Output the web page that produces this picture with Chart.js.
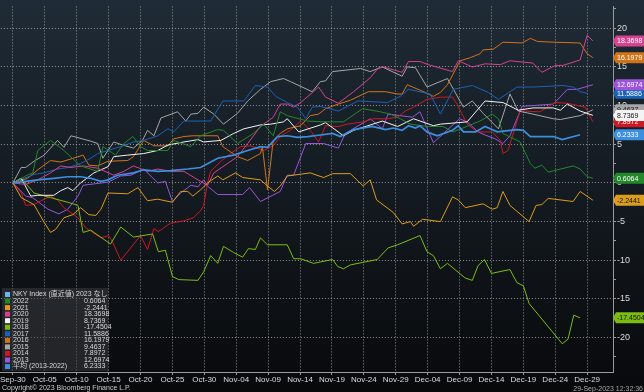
<!DOCTYPE html>
<html>
<head>
<meta charset="utf-8">
<script src="https://cdn.jsdelivr.net/npm/chart.js@4"></script>
<style>
  html, body { margin: 0; padding: 0; background: #0b0e11; }
  canvas { display: block; }
</style>
</head>
<body>
<canvas id="chart" width="644" height="392"></canvas>
<script>
// x values are days counted from Sep-30
const xTickDays = [0, 5, 10, 15, 20, 25, 30, 35, 40, 45, 50, 55, 60, 65, 70, 75, 80, 85, 90];
const xTickLabels = ['Sep-30', 'Oct-05', 'Oct-10', 'Oct-15', 'Oct-20', 'Oct-25', 'Oct-30', 'Nov-04', 'Nov-09',
  'Nov-14', 'Nov-19', 'Nov-24', 'Nov-29', 'Dec-04', 'Dec-09', 'Dec-14', 'Dec-19', 'Dec-24', 'Dec-29'];
const yTicks = [-22.5, -20, -17.5, -15, -12.5, -10, -7.5, -5, -2.5, 0, 2.5, 5, 7.5, 10, 12.5, 15, 17.5, 20, 22.5];

const seriesNames = ['NKY Index (直近値) 2023 なし', '2022', '2021', '2020', '2019', '2018', '2017', '2016', '2015', '2014', '2013', '平均 (2013-2022)'];
const lastValues = ['', '0.6064', '-2.2441', '18.3698', '8.7369', '-17.4504', '11.5886', '16.1979', '9.4637', '7.8972', '12.6974', '6.2333'];
const seriesColors = ['#69b3f2', '#22882a', '#dc9c1c', '#d6428f', '#f4f4f4', '#7cbc10', '#1a62b4', '#d0741a', '#a6a6a6', '#cc1820', '#9a55dc', '#3c8fe0'];
const tagTextColors = ['#fff', '#fff', '#111', '#fff', '#111', '#111', '#fff', '#fff', '#111', '#fff', '#fff', '#fff'];

// [day, % change]
const s2022 = [[0,0],[2.0,0.9],[3.1,1.3],[3.9,4.2],[5.9,5.5],[8.0,4.2],[10.6,2.2],[13.3,1.5],[14.1,4.7],[16.1,3.6],[17.4,5.1],[18.8,6.0],[20.0,4.7],[21.1,4.2],[24.3,4.2],[25.2,5.5],[27.9,4.7],[29.4,6.1],[32.1,6.9],[33.0,6.8],[35.2,5.1],[37.7,6.4],[39.3,7.6],[40.8,6.1],[41.9,9.2],[43.0,8.7],[46.2,8.0],[48.7,7.9],[51.8,7.9],[54.8,9.6],[57.6,9.2],[59.2,8.9],[60.7,8.3],[62.3,7.6],[64.9,7.3],[67.4,7.3],[69.0,6.6],[73.2,8.0],[75.1,8.9],[76.1,8.3],[76.8,6.4],[79.5,5.3],[81.1,2.5],[81.8,1.9],[82.9,2.3],[83.9,1.4],[87.8,2.2],[88.9,1.8],[90.0,0.8],[90.9,0.61]];
const s2021 = [[0,0],[1.3,-1.9],[3.3,-2.8],[4.9,-5.1],[5.9,-6.4],[6.7,-6.0],[8.0,-4.5],[9.4,-4.1],[10.6,-3.2],[11.9,-4.1],[13.0,-4.2],[13.8,-3.4],[14.9,-1.3],[18.0,-1.4],[19.6,-0.6],[21.1,-2.3],[22.7,-2.1],[25.0,-2.5],[26.3,-1.1],[27.4,-1.1],[28.2,-1.7],[29.4,-0.9],[30.5,0.0],[32.1,0.9],[32.9,0.4],[34.9,1.3],[36.0,0.7],[38.8,0.4],[39.9,-0.4],[41.0,-1.1],[41.9,-0.4],[43.0,0.9],[46.6,1.3],[48.7,0.7],[50.1,1.2],[52.9,1.2],[54.9,-0.4],[56.0,0.4],[57.0,-2.2],[59.6,-3.8],[61.0,-5.3],[62.3,-5.0],[62.8,-5.6],[64.2,-4.7],[67.0,-5.0],[68.9,-1.8],[69.8,-2.2],[70.9,-3.2],[73.7,-2.7],[75.1,-3.4],[75.9,-3.2],[76.8,-1.1],[77.9,-2.9],[80.9,-5.0],[82.0,-2.9],[82.9,-2.8],[83.9,-2.0],[87.8,-2.4],[88.9,-1.1],[90.9,-2.24]];
const s2020 = [[0,0],[2.0,-0.2],[3.9,0.4],[5.9,1.3],[7.5,2.2],[9.1,2.0],[11.1,2.2],[13.3,1.9],[15.8,1.0],[17.4,1.5],[18.9,2.2],[21.1,1.5],[22.7,1.8],[24.7,1.5],[26.8,1.5],[29.0,0.4],[30.5,-0.3],[31.5,1.3],[33.6,2.5],[35.2,3.4],[36.8,5.1],[38.8,7.3],[40.8,8.5],[41.9,10.2],[43.0,10.2],[44.0,9.8],[45.1,10.4],[47.1,11.8],[47.9,12.4],[49.0,11.1],[51.0,10.3],[53.4,11.8],[56.0,13.6],[57.3,14.9],[58.1,15.0],[61.0,14.3],[62.0,15.7],[63.8,15.7],[65.1,15.3],[68.9,14.4],[69.8,15.8],[72.0,15.0],[74.0,15.4],[76.4,15.3],[77.9,15.8],[81.5,15.5],[82.9,14.3],[85.0,15.2],[86.2,15.2],[88.9,15.9],[90.0,19.1],[90.9,18.37]];
const s2019 = [[0,0],[1.3,0.6],[2.8,-1.7],[3.9,-1.6],[6.4,-1.6],[7.5,-1.0],[8.6,-0.6],[9.4,-1.0],[10.6,0],[12.7,1.3],[14.9,2.1],[15.8,3.4],[18.0,3.6],[20.5,3.8],[22.7,4.2],[24.3,4.9],[26.8,5.3],[29.0,5.6],[29.9,5.3],[32.6,5.5],[34.6,6.4],[36.2,7.0],[38.8,7.5],[40.4,7.6],[42.4,7.9],[43.0,8.3],[44.8,6.6],[48.2,7.5],[49.0,7.8],[51.8,6.1],[53.4,6.8],[57.9,8.0],[60.3,7.3],[62.8,8.3],[65.9,7.4],[67.0,7.6],[71.2,7.9],[74.0,10.6],[76.8,10.4],[79.2,9.4],[81.5,9.7],[84.7,9.7],[85.8,9.4],[86.9,10.2],[88.9,9.3],[90.9,8.74]];
const s2018 = [[0,0],[1.3,0.6],[3.3,-1.3],[5.9,-1.9],[8.6,-2.5],[10.2,-2.9],[11.0,-6.4],[12.2,-6.1],[15.3,-7.9],[16.9,-5.7],[18.9,-7.0],[21.9,-6.6],[22.8,-8.9],[23.9,-8.7],[25.0,-12.1],[26.0,-12.5],[29.0,-12.6],[29.9,-11.5],[31.0,-9.4],[32.1,-10.4],[33.0,-8.2],[34.6,-9.0],[36.0,-9.6],[36.9,-8.5],[38.0,-8.6],[38.8,-7.1],[39.9,-8.0],[43.0,-8.0],[44.0,-9.8],[45.1,-9.8],[47.1,-10.4],[50.1,-9.9],[50.9,-10.8],[51.8,-11.1],[52.9,-10.6],[57.1,-9.9],[58.8,-8.4],[60.3,-8.0],[63.8,-6.8],[64.9,-8.9],[65.9,-9.4],[67.0,-11.1],[68.1,-10.4],[70.9,-12.3],[72.0,-12.6],[72.9,-10.7],[73.9,-9.9],[75.0,-11.7],[77.9,-11.2],[79.0,-12.9],[80.0,-13.3],[80.9,-15.6],[86.1,-20.8],[87.0,-20.2],[87.9,-17.1],[88.9,-17.45]];
const s2017 = [[0,0],[3.3,1.1],[4.9,1.3],[7.0,1.8],[8.6,2.0],[10.6,2.5],[12.2,3.2],[13.3,3.8],[14.9,4.2],[16.9,4.7],[18.9,5.3],[20.5,5.5],[22.7,6.1],[24.3,7.0],[25.2,6.6],[26.8,8.0],[31.0,8.0],[32.9,10.6],[36.2,10.6],[38.0,12.6],[39.9,12.4],[41.2,11.2],[43.0,10.4],[44.6,9.8],[45.9,8.3],[46.9,9.8],[48.2,9.9],[51.0,9.3],[54.1,10.6],[58.7,10.4],[60.7,11.2],[62.0,12.1],[65.4,11.5],[67.0,8.9],[69.0,12.1],[72.0,12.6],[74.5,11.7],[76.1,10.8],[79.0,12.4],[81.5,12.4],[86.2,12.6],[87.8,12.4],[88.9,11.8],[90.0,11.59]];
const s2016 = [[0,0],[2.3,0.6],[3.9,1.7],[5.9,2.9],[7.5,2.7],[9.1,3.1],[11.0,3.6],[11.9,2.3],[13.3,2.2],[14.9,2.8],[18.0,2.9],[18.9,3.4],[20.5,5.5],[22.1,4.8],[24.3,4.8],[25.2,5.7],[26.8,6.0],[28.2,6.1],[32.1,6.1],[32.9,4.7],[35.2,3.4],[36.8,2.9],[38.8,3.8],[39.1,4.7],[39.9,-0.9],[40.8,5.5],[41.9,6.4],[43.0,7.0],[45.1,7.4],[46.6,8.7],[47.9,8.9],[49.0,9.6],[51.0,10.2],[52.9,10.7],[55.7,11.8],[58.4,11.8],[60.3,11.5],[61.0,11.5],[61.8,12.7],[63.8,12.0],[65.9,11.2],[67.0,11.7],[68.1,12.7],[70.1,15.8],[71.7,16.2],[73.2,16.7],[73.7,17.2],[75.3,17.3],[76.8,18.2],[79.8,18.1],[81.1,18.7],[82.2,18.3],[84.7,18.2],[88.9,18.1],[90.0,16.7],[90.9,16.2]];
const s2015 = [[0,0],[1.3,2.0],[2.0,2.0],[3.3,2.8],[4.9,3.6],[7.0,5.5],[8.0,4.6],[9.1,6.1],[12.2,5.4],[13.3,5.1],[14.1,3.2],[15.8,5.3],[17.2,4.9],[18.9,4.5],[20.3,5.5],[21.1,6.8],[22.1,6.1],[23.2,8.4],[25.8,9.2],[27.1,8.0],[27.9,8.9],[29.0,9.0],[29.9,9.8],[31.5,8.9],[33.0,7.6],[35.2,9.0],[36.8,10.6],[38.8,12.1],[40.4,13.1],[42.4,13.5],[43.5,13.1],[46.9,11.8],[48.2,13.1],[49.0,13.2],[50.1,14.4],[54.5,14.8],[56.0,14.4],[57.9,15.0],[61.0,13.8],[61.8,15.0],[63.1,14.9],[64.9,12.4],[68.1,13.5],[70.6,9.8],[72.0,10.6],[73.7,9.0],[76.1,7.0],[77.9,11.5],[79.2,9.3],[81.5,8.9],[84.7,8.3],[85.8,8.2],[88.9,8.7],[90.9,9.46]];
const s2014 = [[0,0],[1.3,-1.3],[2.0,-2.9],[3.3,-2.8],[4.9,-2.1],[5.9,-1.7],[7.0,-2.2],[8.0,-3.2],[10.2,-4.5],[11.4,-5.8],[13.8,-7.1],[15.0,-6.8],[15.6,-7.6],[16.9,-10.0],[20.0,-6.8],[21.1,-8.6],[22.1,-5.9],[22.8,-6.3],[24.7,-5.2],[26.8,-4.9],[28.3,-4.5],[29.4,-3.6],[29.9,-2.9],[30.5,0],[31.0,1.5],[32.6,2.8],[34.1,3.8],[35.7,4.7],[37.2,4.8],[39.3,4.2],[40.8,4.8],[41.9,6.0],[43.5,6.8],[45.1,8.0],[46.6,6.8],[47.9,5.3],[49.0,7.4],[51.0,7.3],[52.4,7.6],[54.9,7.9],[56.5,8.3],[58.7,8.3],[60.3,8.5],[61.5,9.3],[62.8,9.8],[64.9,10.8],[67.0,11.1],[68.9,11.1],[69.6,10.2],[71.2,7.6],[72.8,6.6],[75.1,6.6],[76.4,5.5],[76.8,3.8],[77.6,4.2],[79.5,9.3],[82.6,9.2],[85.0,10.4],[86.9,10.3],[89.7,9.8],[90.9,7.9]];
const s2013 = [[0,0],[2.0,-1.7],[3.1,-1.9],[5.5,-3.4],[7.2,-4.0],[8.6,-3.4],[10.2,-1.7],[11.0,-0.3],[14.9,0.1],[16.9,0.9],[18.5,1.0],[20.5,1.8],[22.7,0],[23.9,0.2],[25.0,-2.4],[26.3,-1.3],[27.9,-0.3],[29.0,-0.5],[29.9,0.4],[30.5,-0.4],[32.1,-1.5],[36.0,-1.5],[37.1,-0.6],[38.8,-2.4],[41.9,-1.1],[43.0,1.0],[44.0,1.0],[45.9,5.1],[48.7,5.1],[51.0,4.5],[52.1,6.4],[56.0,8.3],[57.9,7.0],[58.8,8.9],[62.6,8.5],[63.8,9.2],[65.9,5.2],[70.0,8.3],[71.2,7.9],[72.9,6.6],[74.3,6.1],[75.6,5.7],[76.8,5.1],[77.9,6.1],[79.8,9.9],[84.7,10.2],[86.9,12.1],[88.4,12.1],[90.9,12.7]];
const sAvg = [[0,0],[2.0,0.2],[3.9,0.4],[6.4,0.6],[8.6,0.8],[10.6,0.8],[12.2,0.6],[13.8,0.2],[14.9,0.4],[16.4,1.0],[18.9,1.3],[20.5,1.7],[22.7,1.5],[24.7,1.6],[27.4,1.8],[29.4,2.0],[32.1,3.2],[34.6,3.6],[36.8,4.2],[38.8,4.7],[39.9,4.6],[41.5,6.0],[43.0,6.1],[44.6,5.9],[46.2,6.0],[48.2,6.2],[50.1,6.4],[51.3,6.0],[53.4,6.9],[56.3,7.3],[58.4,6.9],[59.6,7.1],[61.0,6.8],[62.0,7.4],[63.1,7.1],[63.8,7.4],[64.9,6.6],[66.5,6.1],[68.9,6.8],[69.8,7.4],[70.6,6.6],[72.5,6.6],[74.0,7.3],[75.9,6.6],[79.0,6.9],[80.0,6.8],[81.1,6.0],[84.7,6.0],[86.1,5.6],[88.9,6.23]];

const series = [[], s2022, s2021, s2020, s2019, s2018, s2017, s2016, s2015, s2014, s2013, sAvg];
// value tags on the right, white one drawn last like the original
const tagOrder = [1, 2, 3, 5, 6, 7, 8, 9, 10, 11, 4];

const datasets = series.map(function (s, i) {
  return {
    label: seriesNames[i],
    data: s.map(p => ({ x: p[0], y: p[1] })),
    borderColor: seriesColors[i],
    backgroundColor: seriesColors[i],
    borderWidth: i === 11 ? 1.7 : 1,
    pointRadius: 0,
    tension: 0,
    order: i === 11 ? 0 : i + 1
  };
});

const bgPlugin = {
  id: 'bg',
  beforeDraw(chart) {
    const ctx = chart.ctx;
    const g = ctx.createLinearGradient(0, 0, 0, chart.height);
    g.addColorStop(0, '#1f2b36');
    g.addColorStop(0.55, '#12181e');
    g.addColorStop(1, '#08090b');
    ctx.save();
    ctx.fillStyle = g;
    ctx.fillRect(0, 0, chart.width, chart.height);
    ctx.restore();
  }
};

const overlayPlugin = {
  id: 'overlay',
  afterDraw(chart) {
    const ctx = chart.ctx;
    const yScale = chart.scales.y;
    ctx.save();

    // legend box
    ctx.fillStyle = 'rgba(60,62,66,0.5)';
    ctx.fillRect(2, 288, 106, 83);
    ctx.font = '7px "Liberation Sans", "Noto Sans CJK JP", sans-serif';
    ctx.textBaseline = 'middle';
    seriesNames.forEach(function (name, i) {
      const y = 294.5 + i * 6.55;
      ctx.fillStyle = seriesColors[i];
      ctx.fillRect(5, y - 2.5, 5, 5);
      ctx.fillStyle = '#d8d8d8';
      ctx.textAlign = 'left';
      ctx.fillText(name, 13, y);
      if (lastValues[i]) ctx.fillText(lastValues[i], 84, y);
    });

    // value tags on the y axis
    ctx.font = '7px "Liberation Sans", sans-serif';
    tagOrder.forEach(function (i) {
      const y = yScale.getPixelForValue(Number(lastValues[i]));
      ctx.beginPath();
      ctx.moveTo(613, y);
      ctx.lineTo(616, y - 5.5);
      ctx.lineTo(644, y - 5.5);
      ctx.lineTo(644, y + 5.5);
      ctx.lineTo(616, y + 5.5);
      ctx.closePath();
      ctx.fillStyle = seriesColors[i];
      ctx.fill();
      ctx.fillStyle = tagTextColors[i];
      ctx.fillText(lastValues[i], 617, y + 0.5);
    });

    // footer texts
    ctx.font = '7px "Liberation Sans", sans-serif';
    ctx.fillStyle = '#c8c8c8';
    ctx.textAlign = 'left';
    ctx.fillText('Copyright© 2023 Bloomberg Finance L.P.', 2, 388);
    ctx.fillStyle = '#a8a8a8';
    ctx.textAlign = 'right';
    ctx.fillText('29-Sep-2023 12:32:36', 643, 389);
    ctx.restore();
  }
};

const gridColor = 'rgba(185,185,185,0.75)';

new Chart(document.getElementById('chart'), {
  type: 'line',
  data: { datasets: datasets },
  options: {
    responsive: false,
    animation: false,
    layout: { padding: 0 },
    plugins: { legend: { display: false }, tooltip: { enabled: false } },
    scales: {
      x: {
        type: 'linear',
        min: -1.88,
        max: 94.05,
        afterBuildTicks: function (scale) { scale.ticks = xTickDays.map(v => ({ value: v })); },
        afterFit: function (scale) { scale.height = 20; },
        ticks: {
          color: '#dcdcdc',
          font: { family: 'Liberation Sans', size: 8 },
          padding: 0,
          maxRotation: 0,
          autoSkip: false,
          callback: function (v) { return xTickLabels[xTickDays.indexOf(v)]; }
        },
        grid: { color: gridColor, tickColor: '#9a9a9a', tickLength: 3, lineWidth: 1 },
        border: { display: true, color: '#9a9a9a', dash: [1, 2] }
      },
      y: {
        position: 'right',
        min: -24.45,
        max: 22.83,
        afterBuildTicks: function (scale) { scale.ticks = yTicks.map(v => ({ value: v })); },
        afterFit: function (scale) { scale.width = 31; },
        ticks: {
          color: '#dcdcdc',
          font: { family: 'Liberation Sans', size: 9 },
          padding: 1,
          autoSkip: false,
          callback: function (v) { return v % 5 === 0 ? String(v) : ''; }
        },
        grid: {
          color: function (c) { return c.tick && c.tick.value % 5 === 0 ? gridColor : 'rgba(0,0,0,0)'; },
          tickColor: '#9a9a9a',
          tickLength: 3,
          lineWidth: 1
        },
        border: { display: true, color: '#9a9a9a', dash: [1, 2] }
      }
    }
  },
  plugins: [bgPlugin, overlayPlugin]
});
</script>
</body>
</html>
